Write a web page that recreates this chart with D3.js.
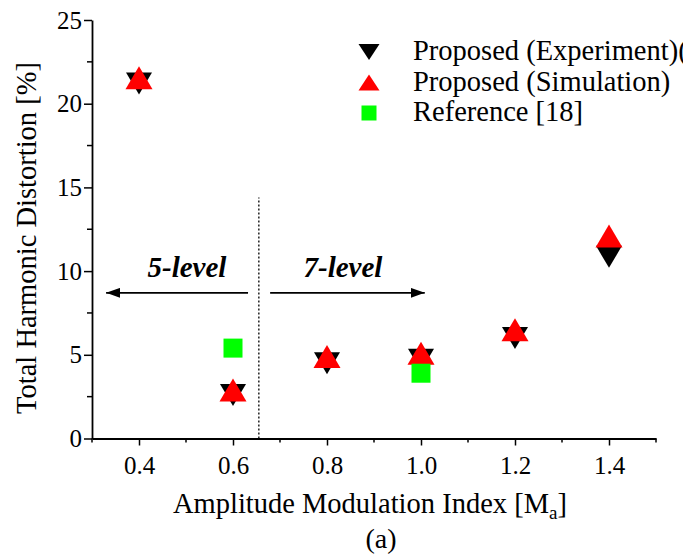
<!DOCTYPE html>
<html>
<head>
<meta charset="utf-8">
<script src="https://cdn.jsdelivr.net/npm/d3@7"></script>
<style>
  body { margin: 0; background: #fff; }
  svg { display: block; font-family: "Liberation Serif", "Times New Roman", serif; }
</style>
</head>
<body>
<div id="chart"></div>
<script>
// Data
const modIndex = [0.4, 0.6, 0.8, 1.0, 1.2, 1.4];
const thdExperiment = [21.2, 2.6, 4.5, 4.7, 6.0, 10.85];
const thdSimulation = [21.55, 2.9, 4.9, 5.1, 6.5, 12.1];
const refIndex = [0.6, 1.0];
const thdReference = [5.4, 3.9];
const xTicks = [0.4, 0.6, 0.8, 1.0, 1.2, 1.4];
const yTicks = [0, 5, 10, 15, 20, 25];
const seriesNames = ["Proposed (Experiment)(", "Proposed (Simulation)", "Reference [18]"];

const width = 683;
const height = 557;

const svg = d3.select("#chart")
    .append("svg")
    .attr("width", width)
    .attr("height", height);

// Scales
const x = d3.scaleLinear().domain([0.3, 1.5]).range([92, 656]);
const y = d3.scaleLinear().domain([0, 25]).range([438.5, 20]);

// Marker shapes (bbox centred on the point)
const triUp = (w, h) => `M0,${-h / 2}L${w / 2},${h / 2}L${-w / 2},${h / 2}Z`;
const triDown = (w, h) => `M0,${h / 2}L${w / 2},${-h / 2}L${-w / 2},${-h / 2}Z`;

// X axis
const xAxis = d3.axisBottom(x)
    .tickValues(xTicks)
    .tickFormat(d3.format(".1f"))
    .tickSize(7)
    .tickSizeOuter(0)
    .tickPadding(11);

const gx = svg.append("g")
    .attr("transform", `translate(0,${y(0)})`)
    .call(xAxis);

// minor ticks every 0.1
gx.append("g").selectAll("line")
    .data(d3.range(3, 16).map(d => d / 10).filter(d => !xTicks.some(t => Math.abs(t - d) < 1e-6)))
    .join("line")
    .attr("x1", d => x(d)).attr("x2", d => x(d))
    .attr("y1", 0).attr("y2", 4)
    .attr("stroke", "#000").attr("stroke-width", 1.5);

// Y axis
const yAxis = d3.axisLeft(y)
    .tickValues(yTicks)
    .tickSize(8)
    .tickSizeOuter(0)
    .tickPadding(2);

const gy = svg.append("g")
    .attr("transform", `translate(${x(0.3)},0)`)
    .call(yAxis);

gy.append("g").selectAll("line")
    .data([2.5, 7.5, 12.5, 17.5, 22.5])
    .join("line")
    .attr("x1", 0).attr("x2", -5)
    .attr("y1", d => y(d)).attr("y2", d => y(d))
    .attr("stroke", "#000").attr("stroke-width", 1.5);

[gx, gy].forEach(g => {
    g.select(".domain").attr("stroke-width", 1.8);
    g.selectAll(".tick line").attr("stroke-width", 1.5);
    g.selectAll("text")
        .attr("font-family", "Liberation Serif")
        .attr("font-size", 25)
        .attr("fill", "#000");
});

// Axis titles
const xTitle = svg.append("text")
    .attr("x", 173)
    .attr("y", 513)
    .attr("font-size", 28.5);
xTitle.append("tspan").text("Amplitude Modulation Index [M");
xTitle.append("tspan").attr("font-size", 19).attr("dy", 6).text("a");
xTitle.append("tspan").attr("dy", -6).text("]");

svg.append("text")
    .attr("transform", "translate(36,238) rotate(-90)")
    .attr("text-anchor", "middle")
    .attr("font-size", 28.5)
    .text("Total Harmonic Distortion [%]");

svg.append("text")
    .attr("x", 381)
    .attr("y", 548)
    .attr("text-anchor", "middle")
    .attr("font-size", 28)
    .text("(a)");

// Level divider and annotations
svg.append("line")
    .attr("x1", x(0.655)).attr("x2", x(0.655))
    .attr("y1", y(0)).attr("y2", y(14.4))
    .attr("stroke", "#000")
    .attr("stroke-width", 1.3)
    .attr("stroke-dasharray", "2,2");

const defs = svg.append("defs");
defs.append("marker")
    .attr("id", "arrowhead")
    .attr("viewBox", "0 0 14 10")
    .attr("refX", 14).attr("refY", 5)
    .attr("markerWidth", 14).attr("markerHeight", 10)
    .attr("markerUnits", "userSpaceOnUse")
    .attr("orient", "auto")
    .append("path")
    .attr("d", "M0,0L14,5L0,10Z")
    .attr("fill", "#000");

const arrows = [[0.632, 0.33], [0.679, 1.008]];
svg.append("g").selectAll("line")
    .data(arrows)
    .join("line")
    .attr("x1", d => x(d[0])).attr("x2", d => x(d[1]))
    .attr("y1", y(8.7)).attr("y2", y(8.7))
    .attr("stroke", "#000")
    .attr("stroke-width", 1.8)
    .attr("marker-end", "url(#arrowhead)");

svg.append("g").selectAll("text")
    .data([["5-level", 0.502], ["7-level", 0.834]])
    .join("text")
    .attr("x", d => x(d[1]))
    .attr("y", y(9.66))
    .attr("text-anchor", "middle")
    .attr("font-size", 29)
    .attr("font-weight", "bold")
    .attr("font-style", "italic")
    .text(d => d[0]);

// Points
const plot = svg.append("g");

plot.selectAll(".exp")
    .data(modIndex.map((m, i) => [m, thdExperiment[i]]))
    .join("path")
    .attr("class", "exp")
    .attr("transform", d => `translate(${x(d[0])},${y(d[1])})`)
    .attr("d", triDown(26, 22))
    .attr("fill", "#000");

plot.selectAll(".sim")
    .data(modIndex.map((m, i) => [m, thdSimulation[i]]))
    .join("path")
    .attr("class", "sim")
    .attr("transform", d => `translate(${x(d[0])},${y(d[1])})`)
    .attr("d", triUp(27, 23))
    .attr("fill", "#ff0000");

plot.selectAll(".ref")
    .data(refIndex.map((m, i) => [m, thdReference[i]]))
    .join("rect")
    .attr("class", "ref")
    .attr("x", d => x(d[0]) - 9.5)
    .attr("y", d => y(d[1]) - 9.5)
    .attr("width", 19)
    .attr("height", 19)
    .attr("fill", "#00ff00");

// Legend
const legend = svg.append("g").attr("transform", "translate(369,60)");
const legendShapes = [
    g => g.append("path").attr("d", triDown(21, 16)).attr("fill", "#000"),
    g => g.append("path").attr("d", triUp(21, 16)).attr("fill", "#ff0000"),
    g => g.append("rect").attr("x", -7.5).attr("y", -7.5).attr("width", 15).attr("height", 15).attr("fill", "#00ff00")
];
seriesNames.forEach((name, i) => {
    const row = legend.append("g").attr("transform", `translate(0,${i * 30.5})`);
    legendShapes[i](row.append("g").attr("transform", "translate(0,-8)"));
    row.append("text")
        .attr("x", 44)
        .attr("y", 0)
        .attr("font-size", 28.5)
        .text(name);
});
</script>
</body>
</html>
